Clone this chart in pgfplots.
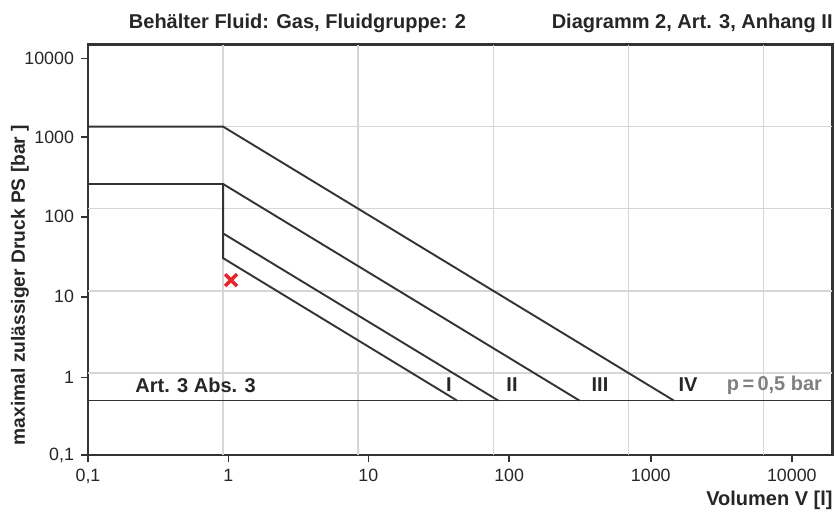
\documentclass[border=0pt]{standalone}
\usepackage{pgfplots}
\pgfplotsset{compat=1.18}
\usepackage{fontspec}
\setmainfont{Liberation Sans}
\definecolor{lin}{HTML}{333333}
\definecolor{grd}{HTML}{D6D6D6}
\definecolor{mk}{HTML}{E8262A}
\begin{document}
\begin{tikzpicture}
\begin{axis}[
  at={(0pt,0pt)}, anchor=south west,
  scale only axis, width=372.2pt, height=205.25pt,
  xmode=log, ymode=log,
  xmin=0.1, xmax=32400, ymin=0.1, ymax=10000,
  axis line style={line width=1.2pt, color=black!80},
  xtick={0.1,1.093,11.9,131,1466,16220},
  xticklabels={{0,1},1,10,100,1000,10000},
  ytick={0.1,0.883,8.47,79.9,741,6792},
  yticklabels={{0,1},1,10,100,1000,10000},
  minor xtick={}, minor ytick={},
  xtick pos=bottom, ytick pos=left,
  tick align=outside,
  major tick length=3.5pt,
  tick style={line width=0.8pt, color=black!80},
  /pgf/number format/assume math mode=true,
  ticklabel style={font=\fontsize{8.9pt}{10pt}\selectfont, text=black!85},
  extra x ticks={1,10,100,1000,10000},
  extra x tick labels={},
  extra x tick style={grid=major, major tick length=0pt},
  extra y ticks={1,10,100,1000},
  extra y tick labels={},
  extra y tick style={grid=major, major tick length=0pt},
  major grid style={line width=0.75pt, color=grd},
  clip=false,
]
\addplot[lin, line width=0.95pt, mark=none] coordinates {(0.1,1000) (1,1000) (2174,0.46)};
\addplot[lin, line width=0.95pt, mark=none] coordinates {(0.1,200) (1,200) (435,0.46)};
\addplot[lin, line width=0.95pt, mark=none] coordinates {(1,200) (1,25) (54,0.46)};
\addplot[lin, line width=0.95pt, mark=none] coordinates {(1,50) (109,0.46)};
\addplot[lin, line width=0.75pt, mark=none] coordinates {(0.1,0.46) (32400,0.46)};
\addplot[only marks, mark=x, mark size=4.2pt, mark options={line width=1.8pt, color=mk}] coordinates {(1.145,13.5)};
\end{axis}
% texts (1px = 0.5pt; x=(X-88)/2, y=(455-Y)/2)
\node[font=\fontsize{10pt}{12pt}\selectfont\bfseries, text=black!85] at (104.75pt,216pt) {Behälter Fluid: Gas, Fluidgruppe: 2};
\node[font=\fontsize{10pt}{12pt}\selectfont\bfseries, text=black!85, anchor=east, inner sep=0pt] at (372.5pt,216pt) {Diagramm 2, Art. 3, Anhang II};
\node[font=\fontsize{10pt}{12pt}\selectfont\bfseries, text=black!85, anchor=east, inner sep=0pt] at (372.5pt,-22.5pt) {Volumen V [l]};
\node[font=\fontsize{9.6pt}{12pt}\selectfont\bfseries, text=black!85, rotate=90] at (-34pt,85pt) {maximal zulässiger Druck PS [bar ]};
\node[font=\fontsize{10pt}{12pt}\selectfont\bfseries, text=black!85, anchor=west, inner sep=0pt] at (23.5pt,35pt) {Art. 3 Abs. 3};
\node[font=\fontsize{10pt}{12pt}\selectfont\bfseries, text=black!85] at (180.5pt,35pt) {I};
\node[font=\fontsize{10pt}{12pt}\selectfont\bfseries, text=black!85] at (212pt,35pt) {II};
\node[font=\fontsize{10pt}{12pt}\selectfont\bfseries, text=black!85] at (256pt,35pt) {III};
\node[font=\fontsize{10pt}{12pt}\selectfont\bfseries, text=black!85] at (300pt,35pt) {IV};
\node[font=\fontsize{10pt}{12pt}\selectfont\bfseries, text=black!50] at (343.25pt,35pt) {p\,=\,0,5 bar};
\pgfresetboundingbox
\path[use as bounding box] (-44pt,-28pt) rectangle (373.5pt,227.5pt);
\end{tikzpicture}
\end{document}
